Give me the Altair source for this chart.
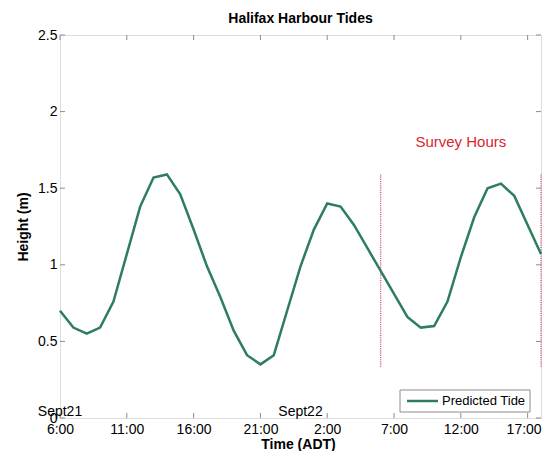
import json
import altair as alt
import pandas as pd

# ---- data ----
hours = list(range(37))  # hours since 6:00 Sept 21
heights = [0.70, 0.59, 0.55, 0.59, 0.76, 1.07, 1.38, 1.57, 1.59, 1.46,
           1.23, 0.99, 0.79, 0.57, 0.41, 0.35, 0.41, 0.70, 0.99, 1.23,
           1.40, 1.38, 1.26, 1.11, 0.96, 0.81, 0.66, 0.59, 0.60, 0.76,
           1.05, 1.31, 1.50, 1.53, 1.45, 1.26, 1.07]
series_names = ["Predicted Tide"]
chart_title = ["Halifax Harbour Tides"]

x_tick_hours = [0, 5, 10, 15, 20, 25, 30, 35]
x_tick_labels = ["6:00", "11:00", "16:00", "21:00", "2:00", "7:00", "12:00", "17:00"]
y_ticks = [0, 0.5, 1, 1.5, 2, 2.5]

day_hours = [0, 18]
day_labels = ["Sept21", "Sept22"]

survey_hours = [24, 36]
survey_top = [1.59, 1.59]
survey_bottom = [0.33, 0.33]
survey_text = ["Survey Hours"]
survey_text_hour = [30]
survey_text_height = [1.8]

# ---- styling ----
FONT = "Liberation Sans"
GREEN = "#2E7D5E"
RED = "#D7262E"
GRAY = "#8c8c8c"
W, H = 481, 383
# legend box (plot-pixel style values)
LX0, LX1, LY0, LY1 = 340, 470, 355, 377

tide = pd.DataFrame({"hour": hours, "height": heights, "series": series_names[0]})
xt = pd.DataFrame({"hour": x_tick_hours})
yt = pd.DataFrame({"h": y_ticks})
days = pd.DataFrame({"hour": day_hours, "label": day_labels})
survey = pd.DataFrame({"hour": survey_hours, "top": survey_top, "bottom": survey_bottom})
stext = pd.DataFrame({"hour": survey_text_hour, "height": survey_text_height, "label": survey_text})
ttl = pd.DataFrame({"label": chart_title})
leg = pd.DataFrame({"series": series_names})

xscale = alt.Scale(domain=[0, 36], nice=False, zero=False)
yscale = alt.Scale(domain=[0, 2.5], nice=False)
cscale = alt.Scale(domain=series_names, range=[GREEN])

label_expr = f"{json.dumps(x_tick_labels)}[indexof({json.dumps(x_tick_hours)}, datum.value)]"
last_tick = x_tick_hours[-1]

x_axis = alt.Axis(values=x_tick_hours, labelExpr=label_expr, title="Time (ADT)",
                  grid=False, domain=False, ticks=False, tickSize=0, labelPadding=4,
                  labelOffset={"condition": {"test": f"datum.value == {last_tick}", "value": -4},
                               "value": 0},
                  labelFontSize=14, labelFont=FONT, labelColor="black", labelFlush=False,
                  titleFont=FONT, titleFontSize=14, titleFontWeight="bold", titleColor="black",
                  titleBaseline="alphabetic", titleY=30, titleX=238)
y_axis = alt.Axis(values=y_ticks, format="~g", title="Height (m)",
                  grid=False, domain=False, ticks=False, tickSize=0, labelPadding=3,
                  labelFontSize=14, labelFont=FONT, labelColor="black", labelBaseline="middle",
                  labelFlush=False,
                  titleFont=FONT, titleFontSize=14, titleFontWeight="bold", titleColor="black",
                  titleBaseline="middle", titleAlign="center", titleAngle=270,
                  titleX=-37, titleY=H / 2)

line = alt.Chart(tide).mark_line(strokeWidth=2.5).encode(
    x=alt.X("hour:Q", scale=xscale, axis=x_axis),
    y=alt.Y("height:Q", scale=yscale, axis=y_axis),
    color=alt.Color("series:N", scale=cscale, legend=None),
)

tick_style = dict(color=GRAY, strokeWidth=1)
bottom_ticks = alt.Chart(xt).mark_rule(**tick_style).encode(
    x=alt.X("hour:Q", scale=xscale), y=alt.value(H), y2=alt.value(H - 5))
top_ticks = alt.Chart(xt).mark_rule(**tick_style).encode(
    x=alt.X("hour:Q", scale=xscale), y=alt.value(0), y2=alt.value(5))
left_ticks = alt.Chart(yt).mark_rule(**tick_style).encode(
    y=alt.Y("h:Q", scale=yscale), x=alt.value(0), x2=alt.value(5))
right_ticks = alt.Chart(yt).mark_rule(**tick_style).encode(
    y=alt.Y("h:Q", scale=yscale), x=alt.value(W), x2=alt.value(W - 5))

survey_lines = alt.Chart(survey).mark_rule(color="#D44A64", strokeWidth=1.3,
                                           strokeDash=[1, 1.2]).encode(
    x=alt.X("hour:Q", scale=xscale),
    y=alt.Y("top:Q", scale=yscale),
    y2="bottom:Q",
)

survey_label = alt.Chart(stext).mark_text(font=FONT, fontSize=15, color=RED,
                                          align="center", baseline="middle").encode(
    x=alt.X("hour:Q", scale=xscale), y=alt.Y("height:Q", scale=yscale), text="label:N")

day_text = alt.Chart(days).mark_text(font=FONT, fontSize=14, color="black",
                                     align="center", baseline="alphabetic", dy=-2).encode(
    x=alt.X("hour:Q", scale=xscale), y=alt.value(H), text="label:N")

title_text = alt.Chart(ttl).mark_text(font=FONT, fontSize=14, fontWeight="bold", color="black",
                                      align="center", baseline="alphabetic").encode(
    x=alt.value(W / 2), y=alt.value(-12), text="label:N")

# legend drawn as marks
legend_box = alt.Chart(leg).mark_rect(fill="white", stroke=GRAY, strokeWidth=1).encode(
    x=alt.value(LX0), x2=alt.value(LX1), y=alt.value(LY0), y2=alt.value(LY1))
legend_line = alt.Chart(leg).mark_rule(strokeWidth=2.5).encode(
    x=alt.value(LX0 + 7), x2=alt.value(LX0 + 38), y=alt.value((LY0 + LY1) / 2),
    color=alt.Color("series:N", scale=cscale, legend=None))
legend_label = alt.Chart(leg).mark_text(font=FONT, fontSize=13, color="black",
                                        align="left", baseline="middle").encode(
    x=alt.value(LX0 + 42), y=alt.value((LY0 + LY1) / 2), text="series:N")

chart = alt.layer(
    survey_lines, line, bottom_ticks, top_ticks, left_ticks, right_ticks,
    survey_label, day_text, title_text, legend_box, legend_line, legend_label,
).properties(
    width=W, height=H,
    autosize=alt.AutoSizeParams(type="none"),
    padding={"left": 52, "top": 27, "right": 1, "bottom": 33},
).configure_view(stroke=GRAY, strokeWidth=1).configure(background="white")

chart.save("out.html", embed_options={"renderer": "svg", "actions": False})
